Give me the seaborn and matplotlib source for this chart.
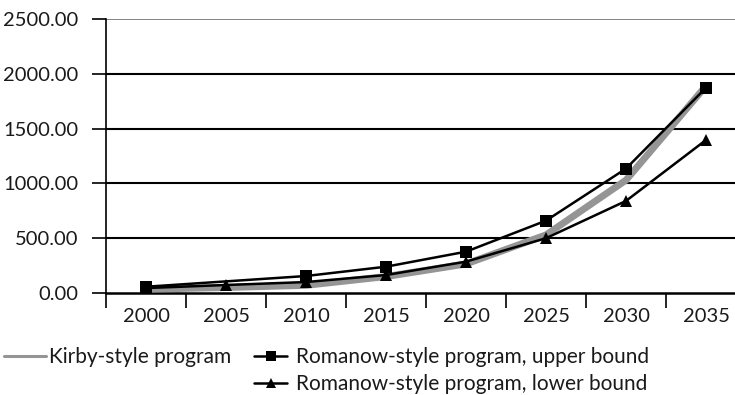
import numpy as np
import pandas as pd
import matplotlib
matplotlib.use("Agg")
import matplotlib.pyplot as plt
import seaborn as sns
from matplotlib.ticker import FixedLocator, FuncFormatter

years = [2000, 2005, 2010, 2015, 2020, 2025, 2030, 2035]
kirby = [35, 50, 70, 150, 265, 530, 1030, 1890]
upper_years = [2000, 2010, 2015, 2020, 2025, 2030, 2035]
upper = [57, 155, 240, 377, 660, 1135, 1873]
lower = [45, 73, 100, 164, 286, 500, 840, 1396]

labels = ["Kirby-style program", "Romanow-style program, upper bound",
          "Romanow-style program, lower bound"]

sns.set_style("white")
plt.rcParams['font.family'] = ['Lato', 'DejaVu Sans']

fig = plt.figure(figsize=(7.35, 3.95), dpi=100)
ax = fig.add_axes([106/735, 102/395, 640/735, 274/395])

df_k = pd.DataFrame({"year": years, "value": kirby})
df_u = pd.DataFrame({"year": upper_years, "value": upper})
df_l = pd.DataFrame({"year": years, "value": lower})

sns.lineplot(data=df_k, x="year", y="value", ax=ax, color="#959595", lw=5,
             zorder=3, label=labels[0], legend=False)
sns.lineplot(data=df_l, x="year", y="value", ax=ax, color="black", lw=1.8,
             marker="^", markersize=9, markeredgewidth=0, zorder=4,
             label=labels[2], legend=False)
sns.lineplot(data=df_u, x="year", y="value", ax=ax, color="black", lw=1.8,
             marker="s", markersize=8, markeredgewidth=0, zorder=5,
             label=labels[1], legend=False)

ax.set_xlim(1997.5, 2037.5)
ax.set_ylim(0, 2500)
ax.set_xlabel("")
ax.set_ylabel("")

ax.xaxis.set_major_locator(FixedLocator(years))
ax.set_xticklabels([str(y) for y in years])
ax.xaxis.set_minor_locator(FixedLocator([y - 2.5 for y in years] + [2037.5]))
ax.tick_params(axis="x", which="major", length=0, pad=11, labelsize=14.5, labelcolor="#1a1a1a")
ax.tick_params(axis="x", which="minor", length=11, width=1.2, color="black", direction="out")
ax.tick_params(axis="x", which="both", bottom=True)

yt = [0, 500, 1000, 1500, 2000, 2500]
ax.yaxis.set_major_locator(FixedLocator(yt))
ax.yaxis.set_major_formatter(FuncFormatter(lambda v, p: f"{v:.2f}"))
ax.tick_params(axis="y", which="major", length=10, width=1.2, color="black",
               direction="out", pad=10, labelsize=14.5, labelcolor="#1a1a1a", left=True)

for v in [500, 1000, 1500, 2000]:
    ax.axhline(v, color="black", lw=1.5, zorder=1)
ax.axhline(2500, color="#707070", lw=1.2, zorder=1)

for s in ["top", "right"]:
    ax.spines[s].set_visible(False)
ax.spines["left"].set_color("black")
ax.spines["left"].set_linewidth(1.2)
ax.spines["bottom"].set_color("black")
ax.spines["bottom"].set_linewidth(1.8)

h = {l.get_label(): l for l in ax.get_lines() if l.get_label() in labels}

leg1 = fig.legend(handles=[h[labels[0]]], labels=[labels[0]], loc="center left",
                  bbox_to_anchor=(4/735, 1 - 357/395), frameon=False, fontsize=15,
                  handlelength=2.0, handletextpad=0.15, borderaxespad=0, borderpad=0.0)
for t in leg1.get_texts():
    t.set_color("#1a1a1a")
for lh in leg1.legend_handles:
    lh.set_linewidth(2.2)

leg2 = fig.legend(handles=[h[labels[1]], h[labels[2]]], labels=labels[1:],
                  loc="upper left", bbox_to_anchor=(254/735, 1 - 347/395), frameon=False,
                  fontsize=15, handlelength=1.6, handletextpad=0.4, labelspacing=0.35,
                  borderaxespad=0, borderpad=0.0)
for t in leg2.get_texts():
    t.set_color("#1a1a1a")
for lh in leg2.legend_handles:
    lh.set_markersize(7)

fig.savefig("out.png", dpi=100)
